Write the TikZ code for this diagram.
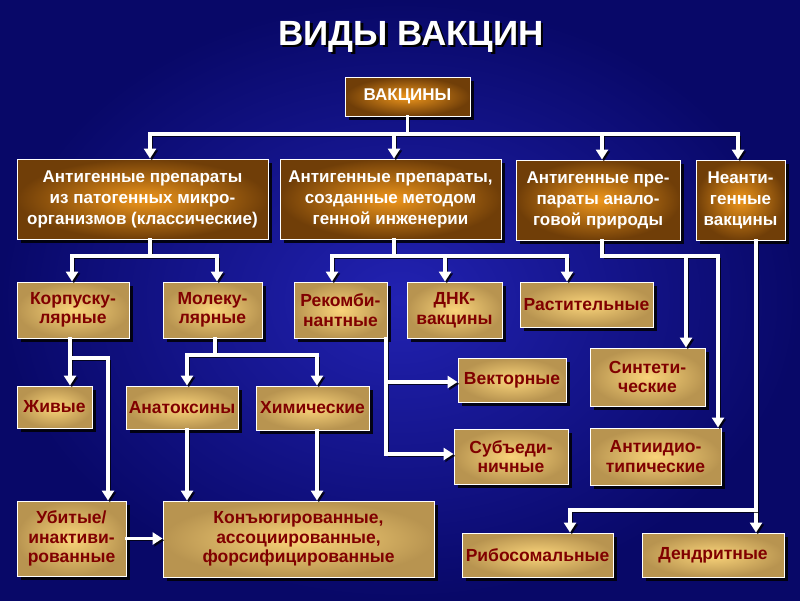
\documentclass[tikz,border=0pt]{standalone}
\usepackage{fontspec}
\setmainfont{Liberation Sans}
\usetikzlibrary{arrows.meta}
\usetikzlibrary{shadows}
\definecolor{bg-inner}{RGB}{34,34,178}
\definecolor{bg-outer}{RGB}{8,8,104}
\definecolor{brown-in}{RGB}{238,150,28}
\definecolor{brown-out}{RGB}{112,62,8}
\definecolor{sand-in}{RGB}{250,212,122}
\definecolor{sand-out}{RGB}{184,148,80}
\definecolor{wine}{RGB}{128,0,0}
\tikzset{
  box/.style 2 args={
    draw=white, line width=0.9pt, inner sep=0pt, align=center,
    minimum width=#1pt, minimum height=#2pt,
    drop shadow={shadow xshift=4pt, shadow yshift=-4pt, opacity=0.85, fill=black}},
  top-box/.style 2 args={box={#1}{#2}, inner color=brown-in, outer color=brown-out,
    text=white, font=\bfseries\fontsize{17}{21}\selectfont},
  sub-box/.style 2 args={box={#1}{#2}, inner color=sand-in, outer color=sand-out,
    text=wine, font=\bfseries\fontsize{17.5}{19.5}\selectfont},
  wire/.style={draw=white, line width=3.4pt, line cap=rect, line join=miter,
    preaction={draw=black, opacity=0.75, transform canvas={shift={(1.8pt,-1.8pt)}}}},
  link/.style={wire, -{Triangle[width=12pt,length=10pt]}},
}
\newcommand{\titletext}{ВИДЫ ВАКЦИН}

\begin{document}
\begin{tikzpicture}[x=1pt, y=-1pt]
  \useasboundingbox (0,0) rectangle (800,600);
  \shade[inner color=bg-inner, outer color=bg-outer] (0,0) rectangle (800,600);

  % title, with its shadow
  \node[anchor=base, text=white, font=\bfseries\fontsize{35}{40}\selectfont] (title) at (411,45)
    {\makebox[0pt][l]{\hspace{2.5pt}\raisebox{-2.5pt}{\textcolor{black}{\titletext}}}\titletext};

  % level 1 and 2
  \node[top-box={125}{39}] (vac) at (407.5,96.5) {ВАКЦИНЫ};
  \node[top-box={251}{80}] (a) at (142.5,199) {Антигенные препараты\\из патогенных микро-\\организмов (классические)};
  \node[top-box={221}{80}] (b) at (390.5,199) {Антигенные препараты,\\созданные методом\\генной инженерии};
  \node[top-box={164}{80}] (c) at (598,200) {Антигенные пре-\\параты анало-\\говой природы};
  \node[top-box={89}{80}] (d) at (740.5,200) {Неанти-\\генные\\вакцины};

  % level 3
  \node[sub-box={112}{56}] (korp) at (73,310) {Корпуску-\\лярные};
  \node[sub-box={99}{56}] (molek) at (212.5,310) {Молеку-\\лярные};
  \node[sub-box={93}{56}] (rekomb) at (340.5,310) {Рекомби-\\нантные};
  \node[sub-box={95}{56}] (dnk) at (454.5,310) {ДНК-\\вакцины};
  \node[sub-box={133}{45}] (rast) at (586.5,304.5) {Растительные};

  % level 4
  \node[sub-box={75}{42}] (ziv) at (54.5,407) {Живые};
  \node[sub-box={112}{43}] (anatox) at (182,407.5) {Анатоксины};
  \node[sub-box={113}{44}] (chem) at (312.5,408) {Химические};
  \node[sub-box={108}{44}] (vect) at (512,380) {Векторные};
  \node[sub-box={114}{55}] (sub) at (511,456.5) {Субъеди-\\ничные};
  \node[sub-box={115}{58}] (sint) at (647.5,377) {Синтети-\\ческие};
  \node[sub-box={131}{57}] (anti) at (655.5,456.5) {Антиидио-\\типические};

  % level 5
  \node[sub-box={109}{75}] (ubit) at (71.5,538.5) {Убитые/\\инактиви-\\рованные};
  \node[sub-box={271}{76}] (konj) at (298.5,539) {Конъюгированные,\\ассоциированные,\\форсифицированные};
  \node[sub-box={151}{44}] (ribo) at (537.5,555) {Рибосомальные};
  \node[sub-box={142}{44}] (dend) at (713,555) {Дендритные};

  % junctions
  \coordinate (j-a) at (150,134);
  \coordinate (j-b) at (394,134);
  \coordinate (j-c) at (602,134);
  \coordinate (j-d) at (738,134);
  \coordinate (ja-1) at (72,256);
  \coordinate (ja-2) at (217,256);
  \coordinate (jb-1) at (332,256);
  \coordinate (jb-2) at (445,256);
  \coordinate (jb-3) at (567,256);
  \coordinate (jc-1) at (602,256);
  \coordinate (jc-2) at (686,256);
  \coordinate (jc-3) at (718,256);
  \coordinate (jd-1) at (756,510);
  \coordinate (jd-2) at (570,510);
  \coordinate (jk-1) at (70,358);
  \coordinate (jk-2) at (108,358);
  \coordinate (jm-0) at (215,355);
  \coordinate (jm-1) at (187,355);
  \coordinate (jm-2) at (317,355);
  \coordinate (jr-1) at (386,382);
  \coordinate (jr-2) at (386,454);

  % top bus
  \draw[wire] (vac.south) -- (vac.south |- j-a);
  \draw[wire] (j-a) -- (j-d);
  \foreach \j/\n in {j-a/a, j-b/b, j-c/c, j-d/d}
    \draw[link] (\j) -- (\j |- \n.north);

  % classical
  \draw[wire] (j-a |- a.south) -- (j-a |- ja-1);
  \draw[wire] (ja-1) -- (ja-2);
  \draw[link] (ja-1) -- (ja-1 |- korp.north);
  \draw[link] (ja-2) -- (ja-2 |- molek.north);
  \draw[link] (jk-1 |- korp.south) -- (jk-1 |- ziv.north);
  \draw[link] (jk-1) -- (jk-2) -- (jk-2 |- ubit.north);
  \draw[wire] (jm-0 |- molek.south) -- (jm-0);
  \draw[wire] (jm-1) -- (jm-2);
  \draw[link] (jm-1) -- (jm-1 |- anatox.north);
  \draw[link] (jm-2) -- (jm-2 |- chem.north);
  \draw[link] (jm-1 |- anatox.south) -- (jm-1 |- konj.north);
  \draw[link] (jm-2 |- chem.south) -- (jm-2 |- konj.north);
  \draw[link] (ubit.east) -- (ubit.east -| konj.west);

  % genetic engineering
  \draw[wire] (j-b |- b.south) -- (j-b |- jb-1);
  \draw[wire] (jb-1) -- (jb-3);
  \foreach \j/\n in {jb-1/rekomb, jb-2/dnk, jb-3/rast}
    \draw[link] (\j) -- (\j |- \n.north);
  \draw[link] (jr-1 |- rekomb.south) -- (jr-2) -- (jr-2 -| sub.west);
  \draw[link] (jr-1) -- (jr-1 -| vect.west);

  % analogues
  \draw[wire] (j-c |- c.south) -- (jc-1) -- (jc-3);
  \draw[link] (jc-2) -- (jc-2 |- sint.north);
  \draw[link] (jc-3) -- (jc-3 |- anti.north);

  % non-antigenic
  \draw[link] (jd-1 |- d.south) -- (jd-1 |- dend.north);
  \draw[link] (jd-1) -- (jd-2) -- (jd-2 |- ribo.north);
\end{tikzpicture}
\end{document}
